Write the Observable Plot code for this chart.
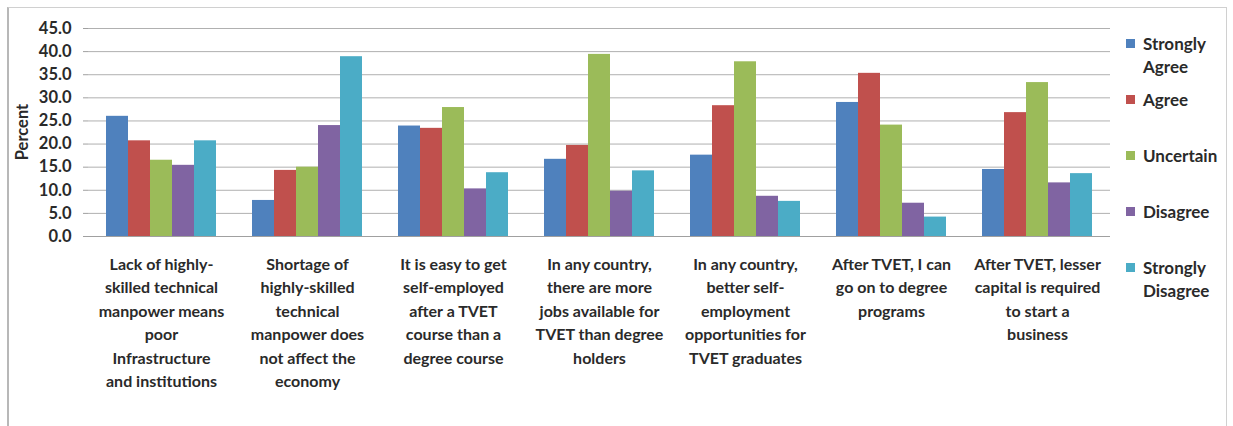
<!DOCTYPE html>
<html>
<head>
<meta charset="utf-8">
<script src="https://cdn.jsdelivr.net/npm/d3@7"></script>
<script src="https://cdn.jsdelivr.net/npm/@observablehq/plot@0.6"></script>
<style>
  html, body { margin: 0; padding: 0; background: #fff; }
  #wrap { position: relative; width: 1233px; height: 426px; overflow: hidden; font-family: Lato, "Open Sans", sans-serif; }
  #border { position: absolute; left: 7px; top: 7px; width: 1220px; height: 440px; border: 1px solid #d0d0d0; border-left: 2px solid #b8b8b8; box-sizing: border-box; }
  #chart { position: absolute; left: 0; top: 0; }
  #ylabel { position: absolute; left: 22px; top: 132px; transform: translate(-50%, -50%) rotate(-90deg); font-weight: bold; font-size: 16.5px; color: #2a2a2a; white-space: nowrap; }
  #legend { position: absolute; left: 1126px; top: 32px; font-weight: bold; font-size: 17px; color: #2a2a2a; }
  .item { position: relative; height: 56px; padding-left: 17px; line-height: 23px; }
  .sw { position: absolute; left: 0; top: 7px; width: 9px; height: 9px; }
</style>
</head>
<body>
<div id="wrap">
  <div id="border"></div>
  <div id="chart"></div>
  <div id="ylabel">Percent</div>
  <div id="legend"></div>
</div>
<script>
const categories = [
  "Lack of highly-\nskilled technical\nmanpower means\npoor\nInfrastructure\nand institutions",
  "Shortage of\nhighly-skilled\ntechnical\nmanpower does\nnot affect the\neconomy",
  "It is easy to get\nself-employed\nafter a TVET\ncourse than a\ndegree course",
  "In any country,\nthere are more\njobs available for\nTVET than degree\nholders",
  "In any country,\nbetter self-\nemployment\nopportunities for\nTVET graduates",
  "After TVET, I can\ngo on to degree\nprograms",
  "After TVET, lesser\ncapital is required\nto start a\nbusiness"
];
const series = ["Strongly Agree", "Agree", "Uncertain", "Disagree", "Strongly Disagree"];
const legendLabels = ["Strongly<br>Agree", "Agree", "Uncertain", "Disagree", "Strongly<br>Disagree"];
const colors = ["#4F81BD", "#C0504D", "#9BBB59", "#8064A2", "#4BACC6"];

const stronglyAgree    = [26.0, 7.8, 23.9, 16.7, 17.6, 29.0, 14.5];
const agree            = [20.7, 14.3, 23.4, 19.7, 28.3, 35.3, 26.8];
const uncertain        = [16.5, 15.0, 27.9, 39.4, 37.8, 24.1, 33.3];
const disagree         = [15.4, 24.0, 10.3, 9.8, 8.7, 7.2, 11.6];
const stronglyDisagree = [20.7, 38.9, 13.8, 14.2, 7.6, 4.2, 13.6];

const yTicks = [0, 5, 10, 15, 20, 25, 30, 35, 40, 45];

const seriesValues = [stronglyAgree, agree, uncertain, disagree, stronglyDisagree];
const data = [];
categories.forEach((c, i) => {
  series.forEach((s, j) => data.push({category: c, series: s, value: seriesValues[j][i]}));
});

const chart = Plot.plot({
  width: 1233,
  height: 426,
  marginLeft: 86,
  marginRight: 122,
  marginTop: 28,
  marginBottom: 190,
  style: {fontFamily: "Lato, 'Open Sans', sans-serif", fontWeight: "bold", fontSize: "16px", color: "#2a2a2a", background: "transparent"},
  fx: {domain: categories, padding: 0, label: null},
  x: {domain: series, paddingInner: 0, paddingOuter: 0.75, axis: null},
  y: {domain: [0, 45], label: null},
  color: {domain: series, range: colors},
  marks: [
    Plot.gridY(yTicks, {stroke: "#b0b0b0", strokeOpacity: 1}),
    Plot.barY(data, {fx: "category", x: "series", y: "value", fill: "series"}),
    Plot.ruleY([0], {stroke: "#a0a0a0"}),
    Plot.axisY(yTicks, {tickFormat: d => d.toFixed(1), tickSize: 5, tickPadding: 12, stroke: "#a0a0a0", fontSize: 16.5, fontWeight: "bold", label: null}),
    Plot.axisFx({anchor: "bottom", tickSize: 0, tickPadding: 17, lineHeight: 1.46, fontSize: 16, fontWeight: "bold", label: null})
  ]
});
document.getElementById("chart").appendChild(chart);

const legend = document.getElementById("legend");
series.forEach((s, j) => {
  const item = document.createElement("div");
  item.className = "item";
  item.innerHTML = `<span class="sw" style="background:${colors[j]}"></span>${legendLabels[j]}`;
  legend.appendChild(item);
});
</script>
</body>
</html>
